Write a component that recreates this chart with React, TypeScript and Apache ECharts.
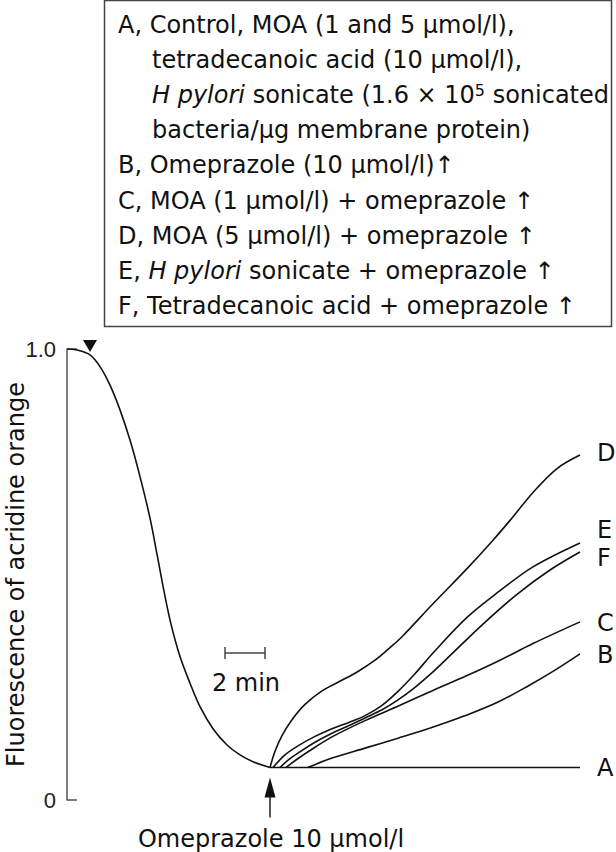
import { useEffect, useRef } from "react";
import * as echarts from "echarts";

const FONT = '"DejaVu Sans", "Liberation Sans", sans-serif';
const TICK_FONT = "Liberation Sans";
const INK = "#111";

const legendLines = [
  "A, Control, MOA (1 and 5 µmol/l),",
  "tetradecanoic acid (10 µmol/l),",
  "{i|H pylori} sonicate (1.6 × 10{sup|5} sonicated",
  "bacteria/µg membrane protein)",
  "B, Omeprazole (10 µmol/l)↑",
  "C, MOA (1 µmol/l) + omeprazole ↑",
  "D, MOA (5 µmol/l) + omeprazole ↑",
  "E, {i|H pylori} sonicate + omeprazole ↑",
  "F, Tetradecanoic acid + omeprazole ↑",
];

const yAxisName = "Fluorescence of acridine orange";
const yTickValues = [0, 1];
const yTickLabels = ["0", "1.0"];
const arrowLabel = "Omeprazole 10 µmol/l";
const scaleBarLabel = "2 min";
const scaleBarMinutes = [7.9, 9.9];
const scaleBarLevel = 0.326;
const omeprazoleTime = 10.15;
const baselineLevel = 0.072;
const markerTime = 1.15;
const xMax = 25.65;

// time (min), relative fluorescence
const mainCurve = [
  [0, 1.0], [0.5, 0.998], [1.15, 0.987], [1.65, 0.961], [2.15, 0.92], [2.65, 0.865],
  [3.15, 0.798], [3.65, 0.717], [4.15, 0.625], [4.5, 0.545], [4.85, 0.463], [5.2, 0.39],
  [5.65, 0.318], [6.15, 0.259], [6.65, 0.207], [7.3, 0.158], [8.0, 0.122], [8.65, 0.1],
  [9.3, 0.085], [10.15, 0.072],
];
const curveA = [[10.15, 0.072], [25.65, 0.072]];
const curveB = [
  [12.05, 0.072], [13.25, 0.093], [14.9, 0.115], [16.55, 0.137], [18.2, 0.16],
  [19.85, 0.186], [21.5, 0.216], [23.1, 0.254], [24.4, 0.288], [25.65, 0.324],
];
const curveC = [
  [10.95, 0.072], [11.55, 0.092], [12.4, 0.117], [13.25, 0.14], [14.9, 0.176], [16.65, 0.21],
  [18.3, 0.243], [20.0, 0.276], [21.65, 0.31], [23.3, 0.347], [25.65, 0.395],
];
const curveD = [
  [10.15, 0.072], [10.4, 0.108], [10.75, 0.143], [11.25, 0.178], [11.9, 0.212],
  [12.75, 0.242], [13.55, 0.261], [14.55, 0.285], [15.4, 0.31], [16.05, 0.334],
  [16.75, 0.362], [18.3, 0.435], [20.0, 0.513], [21.3, 0.576], [22.15, 0.62],
  [23.3, 0.682], [24.5, 0.735], [25.65, 0.765],
];
const curveE = [
  [10.3, 0.072], [10.9, 0.1], [11.55, 0.12], [12.4, 0.141], [13.25, 0.158], [14.1, 0.172],
  [14.9, 0.187], [15.75, 0.21], [16.55, 0.241], [17.4, 0.28], [18.3, 0.326],
  [20.0, 0.405], [21.65, 0.464], [23.3, 0.517], [25.65, 0.57],
];
const curveF = [
  [10.65, 0.072], [11.1, 0.09], [11.55, 0.104], [12.4, 0.128], [13.25, 0.148], [14.1, 0.165],
  [14.9, 0.182], [15.75, 0.2], [16.55, 0.222], [17.4, 0.25], [18.3, 0.284],
  [19.15, 0.32], [20.8, 0.39], [22.5, 0.456], [24.15, 0.51], [25.65, 0.55],
];

const labelled = [
  { name: "A", data: curveA, dy: 0, smooth: false },
  { name: "B", data: curveB, dy: 1, smooth: true },
  { name: "C", data: curveC, dy: 1, smooth: true },
  { name: "D", data: curveD, dy: -2, smooth: true },
  { name: "E", data: curveE, dy: -13, smooth: true },
  { name: "F", data: curveF, dy: 6, smooth: true },
];

export default function App() {
  const ref = useRef<HTMLDivElement>(null);
  useEffect(() => {
    if (!ref.current) return;
    const chart = echarts.init(ref.current, null, { renderer: "svg" });
    const lineStyle = { color: INK, width: 1.6 };
    const series: any[] = [
      {
        type: "line",
        name: "main",
        data: mainCurve,
        showSymbol: false,
        smooth: 0.35,
        lineStyle,
        markPoint: {
          data: [
            {
              coord: [markerTime, 1],
              symbol: "triangle",
              symbolSize: [14, 12],
              symbolRotate: 180,
              symbolOffset: [0, -3],
              itemStyle: { color: INK },
              label: { show: false },
            },
          ],
        },
      },
      ...labelled.map((s) => ({
        type: "line",
        name: s.name,
        data: s.data,
        showSymbol: false,
        smooth: s.smooth ? 0.35 : false,
        lineStyle,
        endLabel: {
          show: true,
          formatter: "{a}",
          fontSize: 24,
          fontFamily: FONT,
          color: INK,
          distance: 17,
          offset: [0, s.dy],
        },
      })),
    ];
    chart.setOption({
      animation: false,
      backgroundColor: "#fff",
      grid: {
        left: 67,
        right: 616 - 580,
        top: 349,
        bottom: 52,
        containLabel: false,
        outerBoundsMode: "none",
      },
      xAxis: { type: "value", min: 0, max: xMax, show: false },
      yAxis: {
        type: "value",
        min: 0,
        max: 1,
        interval: 1,
        splitLine: { show: false },
        axisLine: { show: true, lineStyle: { color: "#555", width: 1.5 } },
        axisTick: { show: true, inside: true, length: 10, lineStyle: { color: "#555", width: 1.5 } },
        axisLabel: { show: false },
        name: yAxisName,
        nameLocation: "middle",
        nameRotate: 90,
        nameGap: 39,
        nameTextStyle: { fontSize: 24, fontFamily: FONT, color: INK },
      },
      series,
    });

    const px = (p: number[]) => chart.convertToPixel({ gridIndex: 0 }, p) as number[];
    const base = px([omeprazoleTime, baselineLevel]);
    const sb0 = px([scaleBarMinutes[0], scaleBarLevel]);
    const sb1 = px([scaleBarMinutes[1], scaleBarLevel]);
    const textStyle = { fontSize: 24, fontFamily: FONT, fill: INK };
    const rich = {
      i: { fontStyle: "italic", fontSize: 24, fontFamily: FONT, fill: INK },
      sup: { fontSize: 16, fontFamily: FONT, fill: INK, verticalAlign: "top", padding: [0, 0, 10, 0] },
    };

    const graphic: any[] = [
      {
        type: "rect",
        shape: { x: 104.5, y: 0.5, width: 507, height: 326 },
        style: { fill: "none", stroke: "#444", lineWidth: 1.5 },
      },
      ...legendLines.map((t, i) => ({
        type: "text",
        x: /^[A-F],/.test(t) ? 118 : 152,
        y: 25 + 35.1 * i,
        style: { ...textStyle, text: t, rich, verticalAlign: "middle", align: "left" },
      })),
      // y tick labels
      ...yTickValues.map((v, i) => {
        const p = px([0, v]);
        return {
          type: "text",
          x: p[0] - 11,
          y: p[1],
          z: 100,
          style: {
            text: yTickLabels[i],
            fontSize: 22,
            fontFamily: TICK_FONT,
            fill: "#222",
            align: "right",
            verticalAlign: "middle",
          },
        };
      }),
      // omeprazole arrow
      {
        type: "polygon",
        shape: {
          points: [
            [base[0], base[1] + 10],
            [base[0] - 5.5, base[1] + 30],
            [base[0] + 5.5, base[1] + 30],
          ],
        },
        style: { fill: INK },
      },
      {
        type: "line",
        shape: { x1: base[0], y1: base[1] + 28, x2: base[0], y2: base[1] + 50 },
        style: { stroke: INK, lineWidth: 1.4 },
      },
      {
        type: "text",
        x: base[0] + 1,
        y: base[1] + 71,
        style: { ...textStyle, text: arrowLabel, align: "center", verticalAlign: "middle" },
      },
      // 2 min scale bar
      {
        type: "polyline",
        shape: { points: [[sb0[0], sb0[1]], [sb1[0], sb1[1]]] },
        style: { stroke: "#444", lineWidth: 1.5 },
      },
      {
        type: "line",
        shape: { x1: sb0[0], y1: sb0[1] - 6, x2: sb0[0], y2: sb0[1] + 6 },
        style: { stroke: "#444", lineWidth: 1.5 },
      },
      {
        type: "line",
        shape: { x1: sb1[0], y1: sb1[1] - 6, x2: sb1[0], y2: sb1[1] + 6 },
        style: { stroke: "#444", lineWidth: 1.5 },
      },
      {
        type: "text",
        x: (sb0[0] + sb1[0]) / 2 + 1,
        y: sb0[1] + 30,
        style: { ...textStyle, text: scaleBarLabel, align: "center", verticalAlign: "middle" },
      },
    ];
    chart.setOption({ graphic });
    return () => chart.dispose();
  }, []);
  return (
    <div
      ref={ref}
      style={{ position: "absolute", left: 0, top: 0, width: 616, height: 852 }}
    />
  );
}
